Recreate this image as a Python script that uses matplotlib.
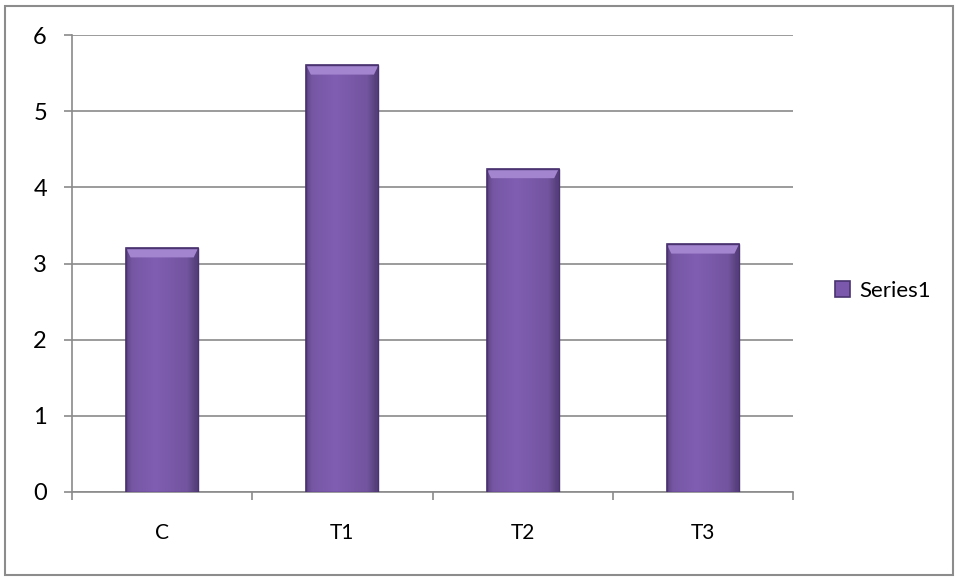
import matplotlib
matplotlib.use("Agg")
import matplotlib.pyplot as plt
from matplotlib.patches import Rectangle, Polygon
import numpy as np

categories = ["C", "T1", "T2", "T3"]
values = [3.2, 5.6, 4.24, 3.25]
series_name = "Series1"
yticks = [0, 1, 2, 3, 4, 5, 6]

plt.rcParams['font.family'] = ['Lato', 'DejaVu Sans']

fig = plt.figure(figsize=(9.6, 5.77), dpi=100)
ax = fig.add_axes([72/960, 1-492/577, (793-72)/960, (492-35)/577])

x = np.arange(len(categories))
bars = ax.bar(x, values, width=0.4, color="#7B58AC", edgecolor="#4A3370",
              linewidth=1.2, label=series_name, zorder=3)

# bevel / gradient effect on each bar
base = np.array([0x80, 0x5E, 0xB2]) / 255
for b in bars:
    x0, w, h = b.get_x(), b.get_width(), b.get_height()
    n = 64
    t = np.linspace(0, 1, n)
    shade = 1.0 - 0.12 * np.abs(t - 0.4) * 2 - 0.25 * np.clip((t - 0.85) / 0.15, 0, 1) \
        - 0.15 * np.clip((0.08 - t) / 0.08, 0, 1)
    img = np.zeros((2, n, 3))
    for i in range(n):
        img[:, i, :] = base * shade[i]
    ax.imshow(img, extent=[x0, x0 + w, 0, h], aspect='auto', zorder=3.1,
              interpolation='bicubic')
    bw = 0.025  # bevel width in x units
    bh = 0.12   # bevel height in y units
    ax.add_patch(Polygon([[x0, h], [x0 + w, h], [x0 + w - bw, h - bh], [x0 + bw, h - bh]],
                         closed=True, facecolor="#A284CF", edgecolor="none", zorder=3.2))
    ax.add_patch(Polygon([[x0 + w, h], [x0 + w, 0], [x0 + w - bw * 0.6, 0], [x0 + w - bw * 0.6, h - bh]],
                         closed=True, facecolor="#5A3F85", edgecolor="none", alpha=0.6, zorder=3.2))
    ax.add_patch(Rectangle((x0, 0), w, h, fill=False, edgecolor="#4A3370",
                           linewidth=1.0, zorder=3.3))

ax.set_xlim(-0.5, len(categories) - 0.5)
ax.set_ylim(0, 6)
ax.set_yticks(yticks)
ax.set_yticklabels([str(t) for t in yticks], fontsize=17)
ax.yaxis.grid(True, color="#8A8A8A", linewidth=1.2, zorder=0)
ax.set_axisbelow(True)

ax.set_xticks(x)
ax.set_xticklabels(categories, fontsize=15)
ax.set_xticks(np.arange(-0.5, len(categories)), minor=True)
ax.tick_params(axis='x', which='major', length=0, pad=22)
ax.tick_params(axis='x', which='minor', length=6, color="#8A8A8A", width=1.2)
ax.tick_params(axis='y', length=6, color="#8A8A8A", width=1.2, pad=12)

for s in ["top", "right"]:
    ax.spines[s].set_visible(False)
for s in ["left", "bottom"]:
    ax.spines[s].set_color("#8A8A8A")
    ax.spines[s].set_linewidth(1.2)

leg = ax.legend(handles=[bars], labels=[series_name], loc="center left",
                bbox_to_anchor=(1.03, 0.44), frameon=False, fontsize=16,
                handlelength=0.7, handleheight=0.7, handletextpad=0.4)

fig.patches.append(Rectangle((5/960, 1-575/577), 948/960, 569/577, transform=fig.transFigure,
                             fill=False, edgecolor="#8C8C8C", linewidth=1.5))

fig.savefig("out.png", dpi=100)
